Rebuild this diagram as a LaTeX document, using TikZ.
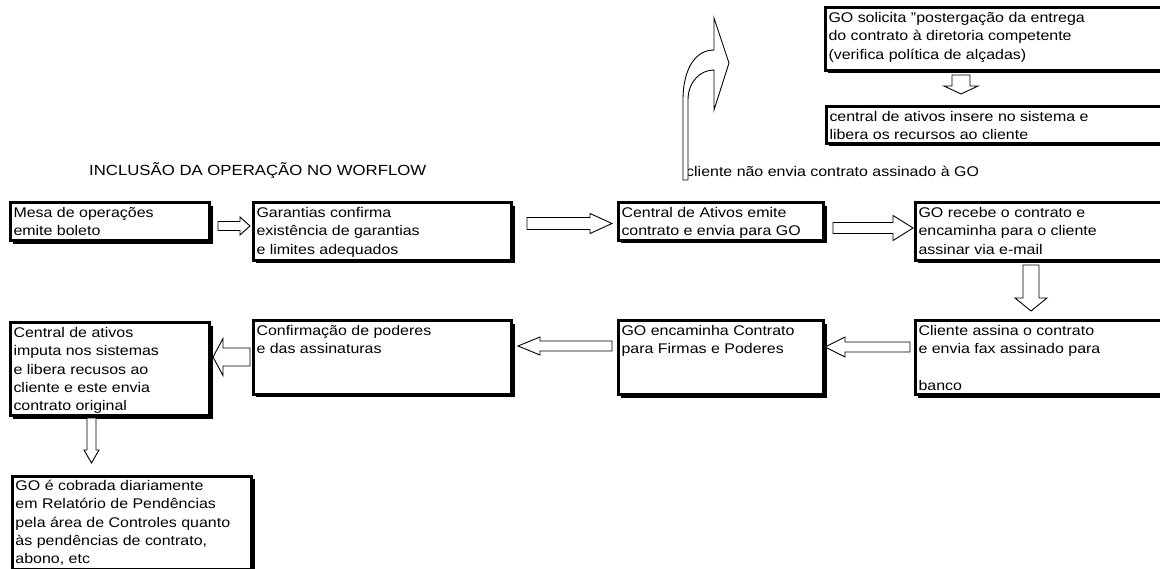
\documentclass[tikz,border=0pt]{standalone}
\usepackage{fontspec}
\setmainfont{Liberation Sans}[FakeStretch=1.14]
\usetikzlibrary{shadows}
\newcommand\boxfont{\fontsize{14}{18.3}\selectfont}
\newcommand\titlefont{\fontsize{14.7}{18}\selectfont}
\tikzset{
  bxs/.style={draw, line width=3pt, fill=white, rectangle, inner xsep=3.5pt, inner ysep=2.5pt,
    drop shadow={shadow xshift=3pt, shadow yshift=-3pt, fill=black, opacity=1}, font=\boxfont},
  barr/.style={draw, line width=0.9pt, fill=white, line join=miter},
  lbl/.style={inner sep=0pt, anchor=base west, font=\boxfont}
}
\newcommand\mkbox[6]{\node[bxs, anchor=north west] (#1) at (#2,#3) {\parbox[b][\dimexpr #5pt-#3pt-5pt\relax][t]{\dimexpr #4pt-#2pt-7pt\relax}{\raggedright\rule{0pt}{12pt}#6}};}
\newcommand\blockarrow[7]{\begin{scope}[shift={(#1,#2)}, rotate=#3]\draw[barr] (0,-#6) -- ({#4-#5},-#6) -- ({#4-#5},-#7) -- (#4,0) -- ({#4-#5},#7) -- ({#4-#5},#6) -- (0,#6) -- cycle;\end{scope}}
\begin{document}
\begin{tikzpicture}[x=1pt,y=-1pt]
\useasboundingbox (0,0) rectangle (1160,569);
% boxes
\mkbox{t1}{823.5}{6.5}{1170}{69}{GO solicita "postergação da entrega\\do contrato à diretoria competente\\(verifica política de alçadas)}
\mkbox{t2}{824.5}{105.5}{1170}{142}{central de ativos insere no sistema e\\libera os recursos ao cliente}
\mkbox{b1}{8.5}{201.5}{208}{239.3}{Mesa de operações\\emite boleto}
\mkbox{b2}{251.5}{201.5}{510.3}{258.7}{Garantias confirma\\existência de garantias\\e limites adequados}
\mkbox{b3}{616.5}{201.5}{822}{238.7}{Central de Ativos emite\\contrato e envia para GO}
\mkbox{b4}{913.5}{201.5}{1170}{258.7}{GO recebe o contrato e\\encaminha para o cliente\\assinar via e-mail}
\mkbox{b5}{913.5}{319.5}{1170}{393.5}{Cliente assina o contrato\\e envia fax assinado para\\\mbox{}\\banco}
\mkbox{b6}{616.5}{319.5}{822}{393.5}{GO encaminha Contrato\\para Firmas e Poderes}
\mkbox{b7}{251.5}{319.5}{510.3}{393}{Confirmação de poderes\\e das assinaturas}
\mkbox{b8}{8.5}{321.5}{208}{414}{Central de ativos\\imputa nos sistemas\\e libera recusos ao\\cliente e este envia\\contrato original}
\mkbox{b9}{10.5}{474.5}{250.3}{567.5}{GO é cobrada diariamente\\em Relatório de Pendências\\pela área de Controles quanto\\às pendências de contrato,\\abono, etc}
% labels
\node[lbl, font=\titlefont] (title) at (89,176) {INCLUSÃO DA OPERAÇÃO NO WORFLOW};
\node[lbl] (cond) at (686,177) {cliente não envia contrato assinado à GO};
% block arrows
\blockarrow{218}{226}{0}{32}{10}{4.5}{9}
\blockarrow{527}{223.5}{0}{85}{22}{6}{10}
\blockarrow{833}{228}{0}{80}{20}{5.5}{12.5}
\blockarrow{1031}{265}{-90}{46}{13}{8}{16}
\blockarrow{910}{347}{180}{85}{20}{5}{10}
\blockarrow{612}{346}{180}{94}{22}{5}{9}
\blockarrow{250}{357}{180}{37}{10}{9}{18.5}
\blockarrow{91.5}{418}{-90}{45}{13}{4.5}{7.5}
\blockarrow{961}{75}{-90}{19}{8}{9}{17}
% curved arrow
\draw[barr] (683,180) -- (683,100) .. controls (683,68) and (696,50) .. (714,50)
  -- (714,18) -- (729,63) -- (714,110) -- (714,70)
  .. controls (700,70) and (688,82) .. (688,100) -- (688,180) -- cycle;
\end{tikzpicture}
\end{document}
